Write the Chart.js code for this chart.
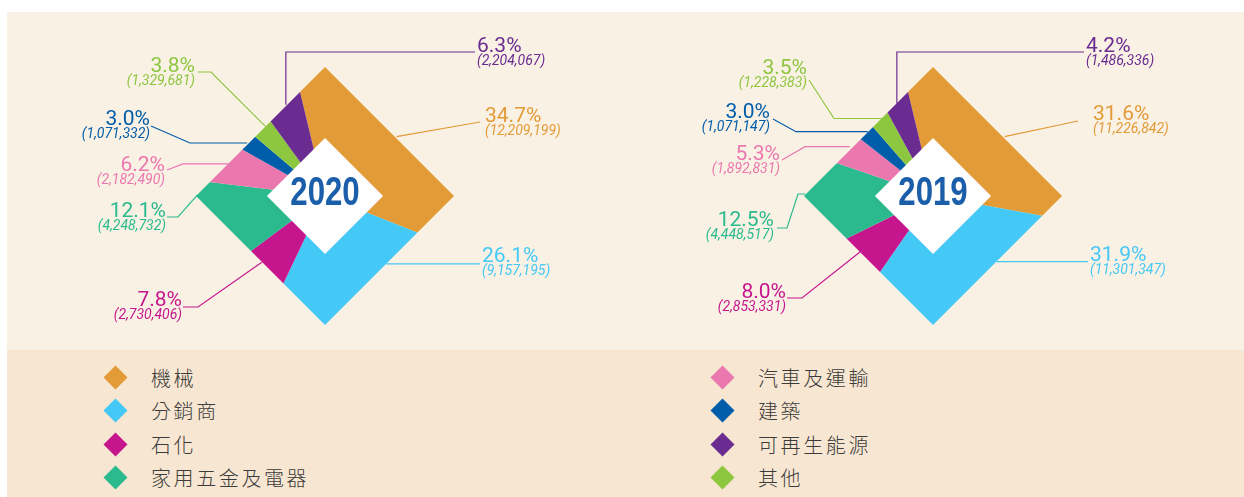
<!DOCTYPE html>
<html lang="zh-Hant">
<head>
<meta charset="UTF-8">
<title>客戶行業分佈 2020 / 2019</title>
<script src="https://cdn.jsdelivr.net/npm/chart.js"></script>
<style>
    body { margin: 0; background: #fff; width: 1244px; height: 497px; position: relative; overflow: hidden; }
    #top { position: absolute; left: 7px; top: 12px; right: 0; height: 338px; background: #FAF1E5; }
    #band { position: absolute; left: 7px; top: 350px; right: 0; bottom: 0; background: #F7E6D1; }
    .chartBox { position: absolute; top: 0; width: 622px; height: 350px; }
    #legend { position: absolute; left: 0; top: 0; }
    .item { position: absolute; height: 24px; font-family: "Noto Sans CJK TC", sans-serif; font-weight: 300;
            font-size: 20px; letter-spacing: 2.6px; color: #3b3b3b; line-height: 24px; white-space: nowrap; }
    .item i { position: absolute; left: -44px; top: 3px; width: 17px; height: 17px; transform: rotate(45deg); }
</style>
</head>
<body>
<div id="top"></div>
<div id="band"></div>
<div class="chartBox" style="left:14px"><canvas id="c2020"></canvas></div>
<div class="chartBox" style="left:622px"><canvas id="c2019"></canvas></div>
<div id="legend"></div>

<script>
// categories in legend order
const categories = ['機械', '分銷商', '石化', '家用五金及電器', '汽車及運輸', '建築', '可再生能源', '其他'];
const colors = ['#E39B38', '#44C8F5', '#C6168D', '#2BBA8E', '#EB77AF', '#005DAA', '#6A2C91', '#8DC63F'];
// clockwise order of the slices
const sliceOrder = [0, 1, 2, 3, 4, 5, 7, 6];

const values2020 = [12209199, 9157195, 2730406, 4248732, 2182490, 1071332, 2204067, 1329681];
const pct2020 = ['34.7%', '26.1%', '7.8%', '12.1%', '6.2%', '3.0%', '6.3%', '3.8%'];
const values2019 = [11226842, 11301347, 2853331, 4448517, 1892831, 1071147, 1486336, 1228383];
const pct2019 = ['31.6%', '31.9%', '8.0%', '12.5%', '5.3%', '3.0%', '4.2%', '3.5%'];

// label leader layout (offsets from the chart centre), indexed like categories
const layout2020 = [
    { t: .51, r: .72, pts: [[155, -74]], tx: 160, ty: -74, al: 'left' },
    { t: .28, r: .71, pts: [[155, null]], tx: 157, ty: 66, al: 'left' },
    { t: .65, r: .71, pts: [[-127, 111], [-142, 111]], tx: -143, ty: 110, al: 'right' },
    { t: .85, r: .99, pts: [[-147, 21], [-158, 21]], tx: -159, ty: 21, al: 'right' },
    { t: .51, r: .79, pts: [[-142, null], [-158, -26]], tx: -160, ty: -25, al: 'right' },
    { t: .45, r: .73, pts: [[-135, null], [-174, -70]], tx: -175, ty: -71, al: 'right' },
    { t: .57, r: .77, pts: [[null, -144], [150, -144]], tx: 152, ty: -144, al: 'left' },
    { t: .67, r: .71, pts: [[-114, -124], [-127, -124]], tx: -130, ty: -124, al: 'right' }
];
const layout2019 = [
    { t: .56, r: .72, pts: [[145, -75]], tx: 160, ty: -76, al: 'left' },
    { t: .31, r: .71, pts: [[155, null]], tx: 157, ty: 65, al: 'left' },
    { t: .61, r: .71, pts: [[-131, 102], [-146, 102]], tx: -147, ty: 102, al: 'right' },
    { t: .60, r: .99, pts: [[-135, null], [-146, 32], [-156, 32]], tx: -159, ty: 30, al: 'right' },
    { t: .61, r: .75, pts: [[-128, null], [-151, -36]], tx: -153, ty: -36, al: 'right' },
    { t: .60, r: .71, pts: [[-137, null], [-160, -77]], tx: -163, ty: -78, al: 'right' },
    { t: .48, r: .77, pts: [[null, -144], [151, -144]], tx: 153, ty: -144, al: 'left' },
    { t: .71, r: .71, pts: [[-99, null], [-124, -116]], tx: -126, ty: -122, al: 'right' }
];

function diamond(ctx, x, y, r) {
    ctx.beginPath();
    ctx.moveTo(x, y - r);
    ctx.lineTo(x + r, y);
    ctx.lineTo(x, y + r);
    ctx.lineTo(x - r, y);
    ctx.closePath();
}

const diamondPie = {
    id: 'diamondPie',
    beforeDatasetsDraw(chart) {
        const arc = chart.getDatasetMeta(0).data[0];
        const ctx = chart.ctx;
        ctx.save();
        diamond(ctx, arc.x, arc.y, arc.outerRadius);
        ctx.clip();
    },
    afterDatasetsDraw(chart, args, opts) {
        const ctx = chart.ctx;
        ctx.restore();
        const meta = chart.getDatasetMeta(0);
        const cx = meta.data[0].x, cy = meta.data[0].y, R = meta.data[0].outerRadius;

        // white centre with the year
        ctx.save();
        ctx.fillStyle = '#fff';
        diamond(ctx, cx, cy, R * 0.45);
        ctx.fill();
        ctx.save();
        ctx.translate(cx, cy + 9);
        ctx.scale(0.78, 1);
        ctx.fillStyle = '#1B5FAA';
        ctx.font = 'bold 40px "Liberation Sans", Arial, sans-serif';
        ctx.textAlign = 'center';
        ctx.textBaseline = 'alphabetic';
        ctx.fillText(opts.year, 0, 0);
        ctx.restore();

        // leaders and labels
        sliceOrder.forEach((cat, i) => {
            const el = meta.data[i];
            const L = opts.layout[cat];
            const a = el.startAngle + L.t * (el.endAngle - el.startAngle);
            let x = cx + Math.cos(a) * R * L.r;
            let y = cy + Math.sin(a) * R * L.r;
            ctx.strokeStyle = colors[cat];
            ctx.lineWidth = 1.2;
            ctx.beginPath();
            ctx.moveTo(x, y);
            L.pts.forEach(p => {
                x = p[0] === null ? x : cx + p[0];
                y = p[1] === null ? y : cy + p[1];
                ctx.lineTo(x, y);
            });
            ctx.stroke();

            ctx.fillStyle = colors[cat];
            ctx.textAlign = L.al;
            ctx.font = '21px Roboto, "Noto Sans", sans-serif';
            ctx.fillText(opts.pct[cat], cx + L.tx, cy + L.ty);
            ctx.font = 'italic 14px Roboto, "Noto Sans", sans-serif';
            ctx.fillText('(' + opts.values[cat].toLocaleString('en-US') + ')', cx + L.tx, cy + L.ty + 13);
        });
        ctx.restore();
    }
};

function makeChart(id, year, values, pct, layout) {
    return new Chart(document.getElementById(id), {
        type: 'pie',
        data: {
            labels: sliceOrder.map(i => categories[i]),
            datasets: [{
                data: sliceOrder.map(i => values[i]),
                backgroundColor: sliceOrder.map(i => colors[i]),
                borderWidth: 0
            }]
        },
        options: {
            responsive: false,
            animation: false,
            events: [],
            radius: 129,
            rotation: -13.5,
            layout: { padding: { top: 42 } },
            plugins: {
                legend: { display: false },
                tooltip: { enabled: false },
                diamondPie: { year: year, values: values, pct: pct, layout: layout }
            }
        },
        plugins: [diamondPie]
    });
}

document.getElementById('c2020').width = 622;
document.getElementById('c2020').height = 350;
document.getElementById('c2019').width = 622;
document.getElementById('c2019').height = 350;
makeChart('c2020', '2020', values2020, pct2020, layout2020);
makeChart('c2019', '2019', values2019, pct2019, layout2019);

// legend, two columns of four
const legend = document.getElementById('legend');
categories.forEach((name, i) => {
    const col = Math.floor(i / 4), row = i % 4;
    const d = document.createElement('div');
    d.className = 'item';
    d.style.left = (col ? 758 : 151) + 'px';
    d.style.top = ([378, 411, 445, 478][row] - 12) + 'px';
    d.innerHTML = '<i style="background:' + colors[i] + '"></i>' + name;
    legend.appendChild(d);
});
</script>
</body>
</html>
